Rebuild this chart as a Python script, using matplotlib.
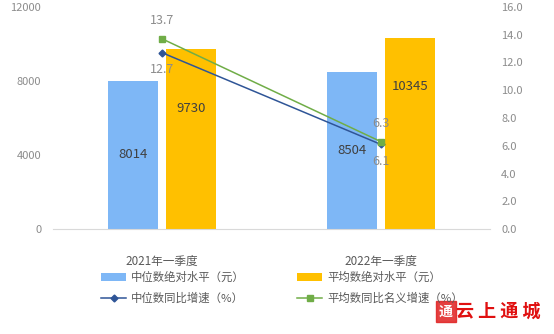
import matplotlib
matplotlib.use("Agg")
import matplotlib.pyplot as plt
from matplotlib.patches import Rectangle

plt.rcParams['font.family'] = ['Noto Sans CJK SC', 'DejaVu Sans']

# Data
kategori = ["2021年一季度", "2022年一季度"]
median_abs = [8014, 8504]
mean_abs = [9730, 10345]
median_growth = [12.7, 6.1]
mean_growth = [13.7, 6.3]

warna_biru = "#7EB7F6"
warna_oranye = "#FFC000"
warna_garis_biru = "#2F5597"
warna_garis_hijau = "#70AD47"
abu = "#8C8C8C"

fig = plt.figure(figsize=(5.54, 3.34), dpi=100)
ax = fig.add_axes([53 / 554, 105 / 334, 437 / 554, 222 / 334])
ax2 = ax.twinx()

x = list(range(len(kategori)))
lebar = 0.229
geser = 0.133

b1 = ax.bar([i - geser for i in x], median_abs, width=lebar, color=warna_biru,
            label="中位数绝对水平（元）", zorder=2)
b2 = ax.bar([i + geser for i in x], mean_abs, width=lebar, color=warna_oranye,
            label="平均数绝对水平（元）", zorder=2)

# label nilai batang
posisi_label_oranye = [0.672, 0.742]
for i in x:
    ax.text(i - geser, median_abs[i] / 2, str(median_abs[i]), ha="center", va="center",
            fontsize=9.5, color="#404040", zorder=5)
    ax.text(i + geser, mean_abs[i] * posisi_label_oranye[i], str(mean_abs[i]), ha="center",
            va="center", fontsize=9.5, color="#404040", zorder=5)

ax.set_xlim(-0.5, 1.5)
ax.set_ylim(0, 12000)
ax.set_yticks([0, 4000, 8000, 12000])
ax.set_xticks(x)
ax.set_xticklabels(kategori)
ax.tick_params(axis="x", length=0, pad=19, labelsize=8.4, labelcolor="#595959")
ax.tick_params(axis="y", length=0, pad=8.5, labelsize=8, labelcolor=abu)

l1, = ax2.plot(x, median_growth, color=warna_garis_biru, marker="D", markersize=3.5,
               linewidth=1.1, label="中位数同比增速（%）", zorder=4)
l2, = ax2.plot(x, mean_growth, color=warna_garis_hijau, marker="s", markersize=4.5,
               linewidth=1.1, label="平均数同比名义增速（%）", zorder=4)
ax2.set_ylim(0, 16)
ax2.set_yticks([0, 2, 4, 6, 8, 10, 12, 14, 16])
ax2.set_yticklabels([f"{v:.1f}" for v in range(0, 17, 2)])
ax2.tick_params(axis="y", length=0, pad=8, labelsize=8, labelcolor=abu)

for i in x:
    ax2.annotate(f"{median_growth[i]}", (i, median_growth[i]), xytext=(0, -17),
                 textcoords="offset pixels", ha="center", va="center", fontsize=9, color=abu)
    ax2.annotate(f"{mean_growth[i]}", (i, mean_growth[i]), xytext=(0, 18),
                 textcoords="offset pixels", ha="center", va="center", fontsize=9, color=abu)

for a in (ax, ax2):
    for s in ["top", "left", "right"]:
        a.spines[s].set_visible(False)
    a.spines["bottom"].set_color("#D9D9D9")
ax2.spines["bottom"].set_visible(False)

ax2.set_zorder(ax.get_zorder() + 1)
ax2.patch.set_visible(False)

fig.legend([b1, l1, b2, l2],
           ["中位数绝对水平（元）", "中位数同比增速（%）", "平均数绝对水平（元）", "平均数同比名义增速（%）"],
           ncol=2, loc="upper left", bbox_to_anchor=(101 / 554, 1 - 272 / 334),
           frameon=False, fontsize=8.2, labelcolor="#595959", handlelength=2.2,
           handletextpad=0.45, columnspacing=4.6, labelspacing=0.8, borderpad=0,
           borderaxespad=0)

# watermark
fig.patches.append(Rectangle((436 / 554, 1 - 322 / 334), 20 / 554, 21 / 334,
                             transform=fig.transFigure, facecolor="#E02020",
                             edgecolor="#E02020", alpha=0.85))
fig.text(446 / 554, 1 - 311.5 / 334, "通", color="white", fontsize=10,
         ha="center", va="center", fontweight="bold")
fig.text(540 / 554, 1 - 311.5 / 334, "云 上 通 城", color="#E01010", fontsize=13,
         ha="right", va="center", fontweight="bold")

fig.savefig("out.png", dpi=100)
